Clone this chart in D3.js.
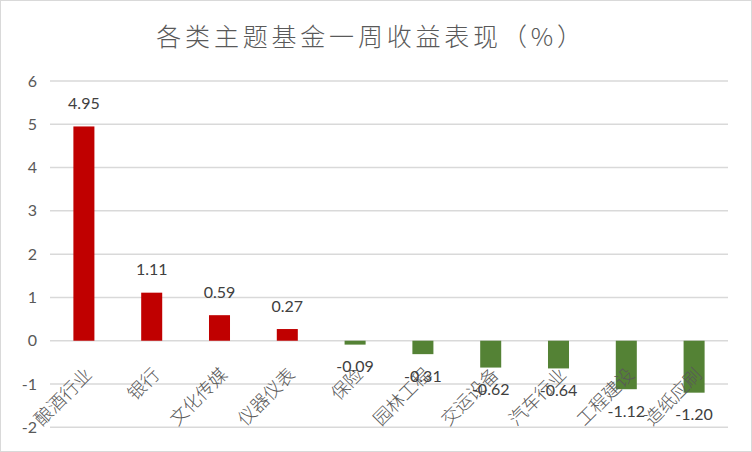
<!DOCTYPE html>
<html>
<head>
<meta charset="utf-8">
<script src="https://cdn.jsdelivr.net/npm/d3@7"></script>
<style>
  body { margin: 0; background: #fff; }
  text { font-family: Lato, "Noto Sans", sans-serif; }
  .cjk { font-family: "Noto Sans CJK SC", sans-serif; }
</style>
</head>
<body>
<svg width="752" height="452"></svg>
<script>
// Chart data
var categories = ['酿酒行业', '银行', '文化传媒', '仪器仪表', '保险', '园林工程', '交运设备', '汽车行业', '工程建设', '造纸应刷'];
var values = [4.95, 1.11, 0.59, 0.27, -0.09, -0.31, -0.62, -0.64, -1.12, -1.20];
var yTicks = [-2, -1, 0, 1, 2, 3, 4, 5, 6];
var title = '各类主题基金一周收益表现（%）';

var svg = d3.select('svg');
var svgWidth = +svg.attr('width');
var svgHeight = +svg.attr('height');

// Outer chart border
svg.append('rect')
    .attr('x', 0.5).attr('y', 0.5)
    .attr('width', svgWidth - 1).attr('height', svgHeight - 1)
    .attr('fill', '#fff')
    .attr('stroke', '#d9d9d9');

// Plot area
var plot = {l: 50, r: 728, t: 81, b: 427.3};

var x = d3.scaleBand()
    .domain(categories)
    .range([plot.l, plot.r]);

var y = d3.scaleLinear()
    .domain([-2, 6])
    .range([plot.b, plot.t]);

// Title
svg.append('text')
    .attr('class', 'cjk')
    .attr('x', 371)
    .attr('y', 46)
    .attr('text-anchor', 'middle')
    .style('font-size', '25px')
    .style('font-weight', 300)
    .style('letter-spacing', '3.8px')
    .attr('fill', '#595959')
    .text(title);

// Gridlines
svg.append('g')
    .selectAll('line')
    .data(yTicks)
    .enter().append('line')
    .attr('x1', plot.l).attr('x2', plot.r)
    .attr('y1', function(d) { return y(d); })
    .attr('y2', function(d) { return y(d); })
    .attr('stroke', '#d9d9d9')
    .attr('stroke-width', 1.5);

// Y axis tick labels
svg.append('g')
    .selectAll('text')
    .data(yTicks)
    .enter().append('text')
    .attr('x', 37)
    .attr('y', function(d) { return y(d); })
    .attr('dy', '0.35em')
    .attr('text-anchor', 'end')
    .attr('fill', '#595959')
    .style('font-size', '16px')
    .text(function(d) { return d; });

// Bars
var barW = x.bandwidth() * 0.31;
var rows = categories.map(function(c, i) { return {name: c, value: values[i]}; });

svg.append('g')
    .selectAll('rect')
    .data(rows)
    .enter().append('rect')
    .attr('x', function(d) { return x(d.name) + (x.bandwidth() - barW) / 2; })
    .attr('y', function(d) { return y(Math.max(0, d.value)); })
    .attr('width', barW)
    .attr('height', function(d) { return Math.abs(y(d.value) - y(0)); })
    .attr('fill', function(d) { return d.value >= 0 ? '#c00000' : '#548235'; });

// Category labels, rotated
svg.append('g')
    .selectAll('text')
    .data(rows)
    .enter().append('text')
    .attr('class', 'cjk')
    .attr('transform', function(d) {
        return 'translate(' + [x(d.name) + x.bandwidth() / 2 + 9, y(0) + 35] + ') rotate(-45)';
    })
    .attr('text-anchor', 'end')
    .attr('fill', '#595959')
    .style('font-size', '18px')
    .style('font-weight', 300)
    .text(function(d) { return d.name; });

// Value labels
svg.append('g')
    .selectAll('text')
    .data(rows)
    .enter().append('text')
    .attr('x', function(d) { return x(d.name) + x.bandwidth() / 2; })
    .attr('y', function(d) { return y(d.value) + (d.value >= 0 ? -23 : 22); })
    .attr('dy', '0.35em')
    .attr('text-anchor', 'middle')
    .attr('fill', '#404040')
    .style('font-size', '16px')
    .text(function(d) { return d.value.toFixed(2); });
</script>
</body>
</html>
